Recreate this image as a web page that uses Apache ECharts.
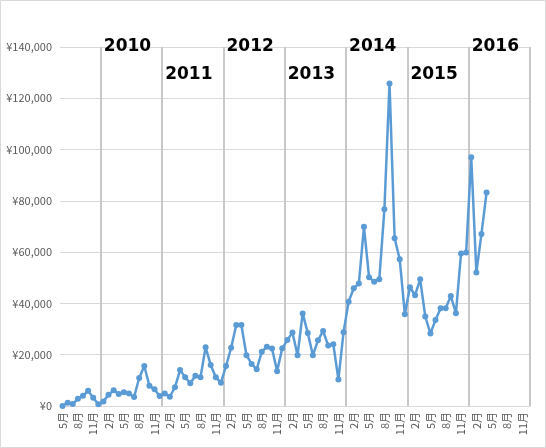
<!DOCTYPE html>
<html>
<head>
<meta charset="utf-8">
<script src="https://cdn.jsdelivr.net/npm/echarts@6/dist/echarts.min.js"></script>
<style>
  html, body { margin: 0; padding: 0; background: #fff; }
  #main { width: 546px; height: 448px; }
</style>
</head>
<body>
<div id="main"></div>
<script>
// months from May 2009 to Dec 2016
const startMonth = 5;
const monthCount = 92;
const years = ['2010', '2011', '2012', '2013', '2014', '2015', '2016'];

// monthly sales, May 2009 .. Apr 2016
const sales2009 = [0, 1300, 800, 2800, 4000, 5900, 3200, 700];
const sales2010 = [1800, 4400, 6100, 4700, 5400, 4900, 3500, 10900, 15600, 7900, 6500, 3900];
const sales2011 = [4900, 3600, 7300, 14000, 11200, 8900, 11800, 11200, 22900, 16000, 11200, 9100];
const sales2012 = [15600, 22700, 31600, 31600, 19800, 16400, 14300, 21200, 23100, 22400, 13600, 22500];
const sales2013 = [25700, 28700, 19800, 36100, 28500, 19800, 25600, 29200, 23600, 24100, 10300, 28800];
const sales2014 = [40700, 45900, 47800, 69900, 50200, 48500, 49400, 76700, 125800, 65400, 57200, 35800];
const sales2015 = [46300, 43200, 49400, 34900, 28300, 33500, 38100, 38100, 42900, 36200, 59500, 59900];
const sales2016 = [97000, 52100, 67100, 83300];

const monthOf = (i) => (startMonth - 1 + i) % 12 + 1;

const categories = [];
for (let i = 0; i < monthCount; i += 1) {
  categories.push(monthOf(i) + '月');
}
const sales = [].concat(sales2009, sales2010, sales2011, sales2012, sales2013, sales2014, sales2015, sales2016);

const myChart = echarts.init(document.getElementById('main'));
myChart.setOption({
  animation: false,
  grid: { left: 60, right: 16, top: 47, bottom: 42 },
  xAxis: {
    type: 'category',
    data: categories,
    boundaryGap: true,
    axisLine: { lineStyle: { color: '#d9d9d9' } },
    axisTick: { show: false },
    axisLabel: {
      interval: (i) => monthOf(i) % 3 === 2,
      rotate: 90,
      color: '#595959',
      fontSize: 11,
      margin: 6,
      fontFamily: 'Noto Sans CJK JP',
    },
    splitLine: {
      show: true,
      interval: (i) => monthOf(i) === 1,
      lineStyle: { color: '#c8c8c8', width: 2 },
    },
  },
  yAxis: {
    type: 'value',
    min: 0,
    max: 140000,
    interval: 20000,
    axisLine: { show: false },
    axisTick: { show: false },
    axisLabel: {
      color: '#595959',
      fontSize: 11,
      fontFamily: 'Noto Sans CJK JP',
      formatter: (v) => '¥' + v.toLocaleString('en-US'),
    },
    splitLine: { lineStyle: { color: '#d9d9d9' } },
  },
  series: [
    {
      type: 'line',
      data: sales,
      symbol: 'circle',
      symbolSize: 6,
      showAllSymbol: true,
      lineStyle: { color: '#5b9bd5', width: 2.5 },
      itemStyle: { color: '#5b9bd5' },
    },
  ],
});

// year labels just right of each January line
const graphics = years.map((y, k) => {
  const idx = 8 + k * 12;
  const px = myChart.convertToPixel({ xAxisIndex: 0 }, idx);
  const step = myChart.convertToPixel({ xAxisIndex: 0 }, idx + 1) - px;
  return {
    type: 'text',
    left: px - step / 2 + 3,
    top: k % 2 === 0 ? 38 : 66,
    style: {
      text: y,
      fontSize: 17,
      fontWeight: 900,
      fontFamily: 'DejaVu Sans',
      fill: '#000',
    },
  };
});
graphics.push({
  type: 'rect',
  shape: { x: 0.5, y: 0.5, width: 545, height: 447 },
  style: { fill: 'none', stroke: '#d9d9d9' },
});
myChart.setOption({ graphic: graphics });
</script>
</body>
</html>
